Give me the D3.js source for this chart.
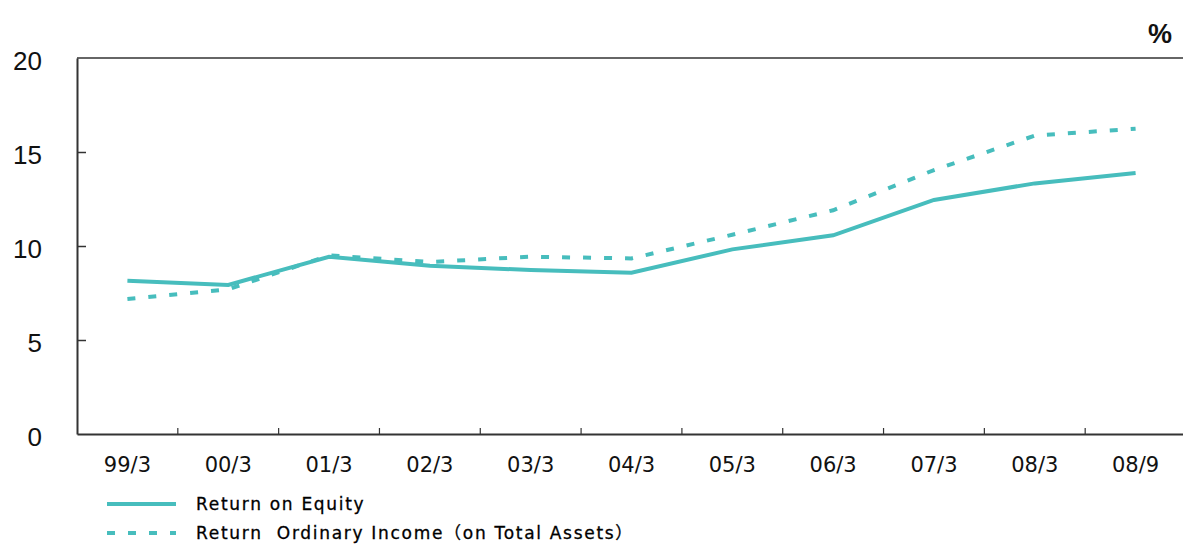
<!DOCTYPE html>
<html>
<head>
<meta charset="utf-8">
<script src="https://cdn.jsdelivr.net/npm/d3@7"></script>
<style>
  body { margin: 0; background: #fff; }
  svg { display: block; }
  .ylab text { font-family: "Liberation Sans", Arial, sans-serif; font-size: 26px; fill: #111; }
  .xlab text { font-family: "DejaVu Sans", sans-serif; font-size: 21px; fill: #111; }
  .legend text { font-family: "DejaVu Sans", "Noto Sans CJK JP", sans-serif; font-size: 17px; letter-spacing: 1.7px; fill: #000; white-space: pre; stroke: #000; stroke-width: 0.3px; }
</style>
</head>
<body>
<svg id="chart" width="1183" height="545"></svg>
<script>
// data
var categories = ["99/3", "00/3", "01/3", "02/3", "03/3", "04/3", "05/3", "06/3", "07/3", "08/3", "08/9"];
var roe = [8.15, 7.93, 9.43, 8.95, 8.72, 8.58, 9.82, 10.57, 12.45, 13.33, 13.88];
var roa = [7.18, 7.7, 9.5, 9.15, 9.43, 9.34, 10.6, 11.9, 14.04, 15.87, 16.24];
var yTicks = [0, 5, 10, 15, 20];
var seriesNames = ["Return on Equity", "Return  Ordinary Income\uFF08on Total Assets\uFF09"];

var teal = "#47bdbd";
var axisColor = "#333";

var svg = d3.select("#chart");

var x = d3.scaleBand().domain(categories).range([77, 1186]);
var y = d3.scaleLinear().domain([0, 20]).range([434, 58]);

function cx(c) { return x(c) + x.bandwidth() / 2; }

// left axis, ticks pointing inside
var yAxis = svg.append("g")
    .attr("class", "ylab")
    .attr("transform", "translate(77,0)")
    .call(d3.axisLeft(y).tickValues(yTicks).tickSize(-9).tickSizeOuter(0).tickPadding(35));
yAxis.select(".domain").attr("stroke", axisColor).attr("stroke-width", 2);
yAxis.selectAll(".tick line").attr("stroke", axisColor).attr("stroke-width", 1.5);
yAxis.selectAll(".tick").filter(function(d) { return d === 0 || d === 20; }).select("line").remove();
yAxis.selectAll(".tick text").attr("dy", "0.45em");

// top frame line
svg.append("line")
    .attr("x1", 77).attr("x2", 1183)
    .attr("y1", y(20)).attr("y2", y(20))
    .attr("stroke", axisColor).attr("stroke-width", 1.5);

// bottom axis, labels only
var xAxis = svg.append("g")
    .attr("class", "xlab")
    .attr("transform", "translate(0," + y(0) + ")")
    .call(d3.axisBottom(x).tickSize(0).tickSizeOuter(0).tickPadding(23));
xAxis.select(".domain").attr("stroke", axisColor).attr("stroke-width", 2);

// separator ticks between categories
svg.append("g").selectAll("line")
    .data(categories.slice(1))
    .join("line")
    .attr("x1", function(d) { return x(d); })
    .attr("x2", function(d) { return x(d); })
    .attr("y1", y(0))
    .attr("y2", y(0) - 6)
    .attr("stroke", axisColor)
    .attr("stroke-width", 1.2);

var line = d3.line()
    .x(function(d, i) { return cx(categories[i]); })
    .y(function(d) { return y(d); });

svg.append("path")
    .datum(roa)
    .attr("fill", "none")
    .attr("stroke", teal)
    .attr("stroke-width", 4)
    .attr("stroke-dasharray", "8,13")
    .attr("d", line);

svg.append("path")
    .datum(roe)
    .attr("fill", "none")
    .attr("stroke", teal)
    .attr("stroke-width", 4)
    .attr("d", line);

// percent unit
svg.append("text")
    .attr("x", 1160).attr("y", 43)
    .attr("text-anchor", "middle")
    .style("font-family", "Liberation Sans, Arial, sans-serif")
    .style("font-size", "27px")
    .style("font-weight", "bold")
    .attr("fill", "#111")
    .text("%");

// legend
var legend = svg.append("g").attr("class", "legend");
var rows = legend.selectAll("g")
    .data(seriesNames)
    .join("g")
    .attr("transform", function(d, i) { return "translate(0," + (504 + i * 29) + ")"; });

rows.append("line")
    .attr("x1", 107).attr("x2", 176)
    .attr("y1", 0).attr("y2", 0)
    .attr("stroke", teal)
    .attr("stroke-width", 4)
    .attr("stroke-dasharray", function(d, i) { return i === 1 ? "8,13" : null; });

rows.append("text")
    .attr("x", 196)
    .attr("y", 6)
    .text(function(d) { return d; });
</script>
</body>
</html>
